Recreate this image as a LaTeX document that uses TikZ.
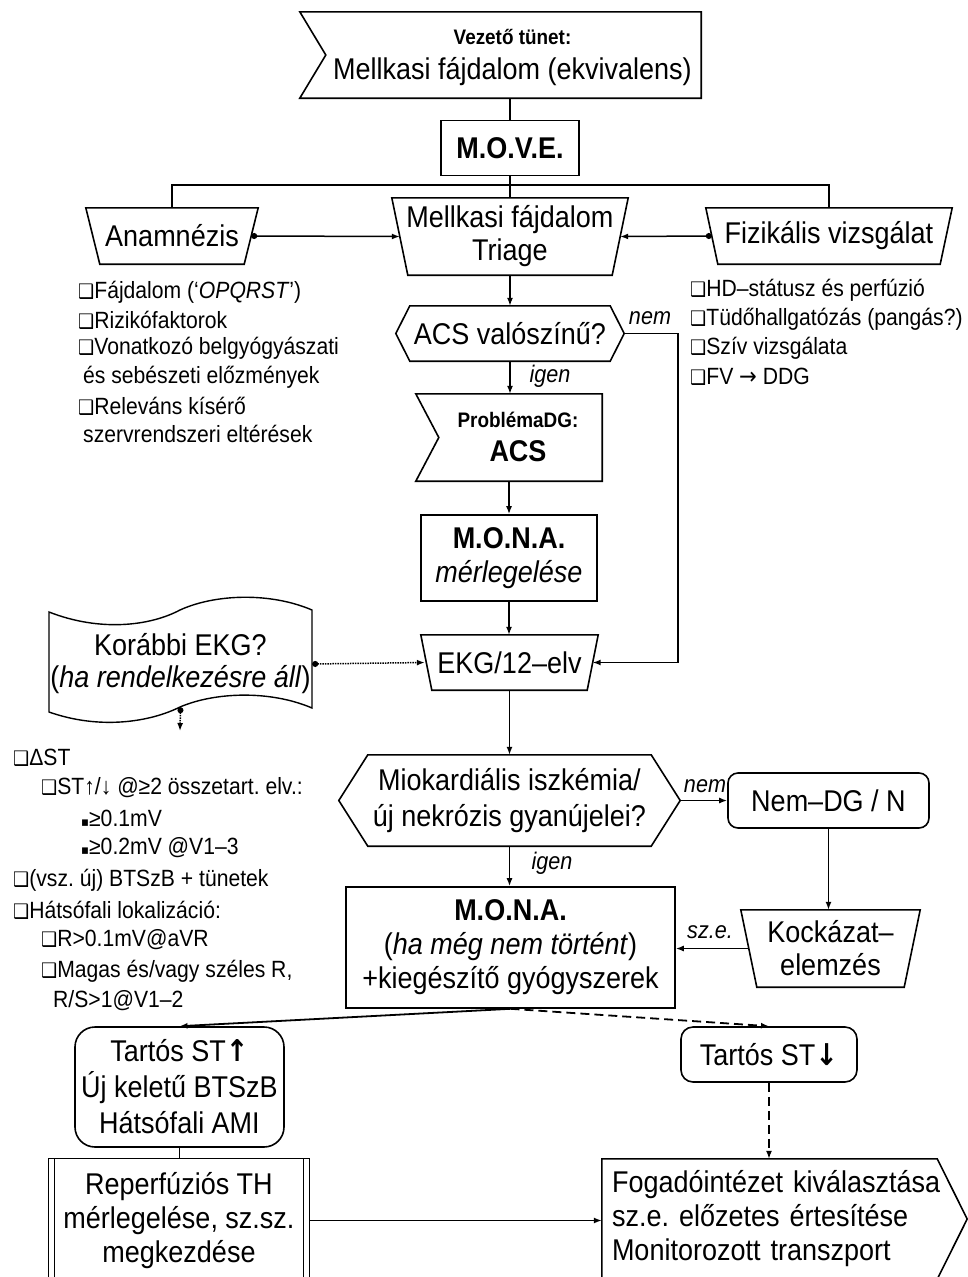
\documentclass[tikz,border=0pt]{standalone}
\usepackage{fontspec}
\setmainfont{Liberation Sans}[FakeStretch=0.9]
\newfontfamily\symfont{DejaVu Sans}[FakeStretch=0.9]
\usetikzlibrary{arrows.meta,calc}
\frenchspacing

\newcommand\bigtxt{\fontsize{30}{34}\selectfont}
\newcommand\listtxt{\fontsize{23.5}{28}\selectfont}
\newcommand\smalltxt{\fontsize{21}{24}\selectfont}
\newcommand\lbltxt{\fontsize{24}{26}\selectfont\itshape}
\newcommand\qbox{{\symfont\fontsize{20}{20}\selectfont ❑}}
\newcommand\sqb{{\symfont\fontsize{13}{13}\selectfont ▪}}

% outlines drawn around invisible nodes
\newcommand\trapeze[2]{\draw[outline] (#1.north west) -- (#1.north east) -- ([xshift=-#2]#1.south east) -- ([xshift=#2]#1.south west) -- cycle;}
\newcommand\hexa[2]{\draw[outline] (#1.west) -- ([xshift=#2]#1.north west) -- ([xshift=-#2]#1.north east) -- (#1.east) -- ([xshift=-#2]#1.south east) -- ([xshift=#2]#1.south west) -- cycle;}
\newcommand\flagin[2]{\draw[outline] (#1.north west) -- (#1.north east) -- (#1.south east) -- (#1.south west) -- ([xshift=#2]#1.west) -- cycle;}

\tikzset{
  outline/.style={draw=black, line width=1.6pt, line join=miter},
  box/.style={inner sep=0pt, align=center, font=\bigtxt},
  framed/.style={box, draw=black, line width=1.6pt},
  conn/.style={line width=1.5pt},
  longdash/.style={dash pattern=on 9pt off 5pt},
  arr/.style={-{Latex[length=8pt,width=6pt]}},
  dotarr/.style={{Circle[length=6pt]}-{Latex[length=8pt,width=6pt]}},
  lbl/.style={inner sep=0pt, font=\lbltxt},
  item/.style={inner sep=0pt, anchor=west, font=\listtxt},
}

\begin{document}
\begin{tikzpicture}[x=1pt,y=-1pt]
\fill[white] (0,0) rectangle (968,1277);
\useasboundingbox (0,0) rectangle (968,1277);

% ---------- top part ----------
\node[box, minimum width=401, minimum height=86] (vezeto) at (500.5,55)
  {\hspace*{24pt}\begin{tabular}{@{}c@{}}{\smalltxt\bfseries Vezető tünet:}\\[1pt] Mellkasi fájdalom (ekvivalens)\end{tabular}};
\flagin{vezeto}{26}

\node[framed, font=\bigtxt\bfseries, minimum width=138, minimum height=55] (move) at (510,148) {M.O.V.E.};
\coordinate (bus) at (510,185);

\node[box, minimum width=172, minimum height=56] (anam) at (172,236) {Anamnézis};
\trapeze{anam}{14}
\node[box, minimum width=236, minimum height=77] (triage) at (510,236.5) {Mellkasi fájdalom\\[-1pt]Triage};
\trapeze{triage}{16}
\node[box, minimum width=246, minimum height=56] (fiz) at (829,236) {Fizikális vizsgálat};
\trapeze{fiz}{12}

\draw[conn] (move.north |- vezeto.south) -- (move.north);
\draw[conn] (move.south) -- (triage.north);
\draw[conn] (anam.north) -- (anam.north |- bus) -- (fiz.north |- bus) -- (fiz.north);
\draw[conn, dotarr] ([xshift=-7]anam.east) -- ([xshift=8]triage.west);
\draw[conn, dotarr] ([xshift=6]fiz.west) -- ([xshift=-8]triage.east);

% history and examination lists
\node[item] (a1) at (78,292) {\qbox Fájdalom (‘\textit{OPQRST}’)};
\node[item] (a2) at (78,320) {\qbox Rizikófaktorok};
\node[item] (a3) at (78,348) {\qbox Vonatkozó belgyógyászati};
\node[item] (a4) at (83,377) {és sebészeti előzmények};
\node[item] (a5) at (78,406) {\qbox Releváns kísérő};
\node[item] (a6) at (83,434) {szervrendszeri eltérések};

\node[item] (f1) at (690,290) {\qbox HD–státusz és perfúzió};
\node[item] (f2) at (690,319) {\qbox Tüdőhallgatózás (pangás?)};
\node[item] (f3) at (690,348) {\qbox Szív vizsgálata};
\node[item] (f4) at (690,377) {\qbox FV {\symfont →} DDG};

% ---------- ACS branch ----------
\node[box, minimum width=228, minimum height=55] (acs) at (510,333.5) {ACS valószínű?};
\hexa{acs}{14}
\node[box, minimum width=186, minimum height=87] (prob) at (509,437.5)
  {\hspace*{18pt}\begin{tabular}{@{}c@{}}{\smalltxt\bfseries ProblémaDG:}\\ {\bfseries ACS}\end{tabular}};
\flagin{prob}{23}
\node[framed, minimum width=176, minimum height=86] (mona1) at (509,558) {{\bfseries M.O.N.A.}\\\textit{mérlegelése}};
\node[box, minimum width=177, minimum height=55] (ekg) at (509.5,662.5) {EKG/12–elv};
\trapeze{ekg}{11}

\draw[conn, arr] (triage.south) -- (acs.north);
\draw[conn, arr] (acs.south) -- (acs.south |- prob.north);
\node[lbl] (igen1) at (550,376) {igen};
\draw[conn, arr] (prob.south) -- (prob.south |- mona1.north);
\draw[conn, arr] (mona1.south) -- (mona1.south |- ekg.north);
\coordinate (nemx) at (678,0);
\draw[conn, arr] (acs.east) -- (acs.east -| nemx) -- (nemx |- ekg.east) -- ([xshift=-5.5]ekg.east);
\node[lbl] (nem1) at (650,318) {nem};

% earlier ECG
\node[box, minimum width=263, minimum height=96] (korabbi) at (180.5,664)
  {Korábbi EKG?\\[-2pt](\textit{ha rendelkezésre áll})};
\draw[outline, line width=1.4pt] (49,612) .. controls (100,632) and (150,626) .. (180,610)
  .. controls (215,594) and (270,592) .. (312,610) -- (312,708)
  .. controls (270,690) and (215,692) .. (180,707)
  .. controls (150,722) and (100,730) .. (49,712) -- cycle;
\draw[conn, densely dotted, dotarr] (korabbi.east) -- ([xshift=4]ekg.west);
\coordinate (kdown) at (180,731);
\draw[conn, densely dotted, dotarr] ([yshift=5]korabbi.south) -- (kdown);

% ECG criteria
\node[item] (e1) at (13,758) {\qbox ΔST};
\node[item] (e2) at (41,788) {\qbox ST↑/↓ @≥2 összetart. elv.:};
\node[item] (e3) at (81,818) {\sqb≥0.1mV};
\node[item] (e4) at (81,848) {\sqb≥0.2mV @V1–3};
\node[item] (e5) at (13,880) {\qbox(vsz. új) BTSzB + tünetek};
\node[item] (e6) at (13,910) {\qbox Hátsófali lokalizáció:};
\node[item] (e7) at (41,940) {\qbox R>0.1mV@aVR};
\node[item] (e8) at (41,971) {\qbox Magas és/vagy széles R,};
\node[item] (e9) at (53,1001) {R/S>1@V1–2};

% ---------- ischaemia decision ----------
\node[box, minimum width=341, minimum height=91] (miok) at (509.5,800.5)
  {Miokardiális iszkémia/\\[2pt]új nekrózis gyanújelei?};
\hexa{miok}{29}
\node[framed, rounded corners=10pt, minimum width=201, minimum height=55] (nemdg) at (828.5,800.5) {Nem–DG / N};
\node[box, minimum width=179, minimum height=77] (kock) at (830.5,948.5) {Kockázat–\\[-1pt]elemzés};
\trapeze{kock}{16}
\node[framed, minimum width=329, minimum height=121] (mona2) at (510.5,947.5)
  {{\bfseries M.O.N.A.}\\(\textit{ha még nem történt})\\+kiegészítő gyógyszerek};

\draw[conn, arr] (ekg.south) -- (ekg.south |- miok.north);
\draw[conn, arr] (miok.east) -- (nemdg.west);
\node[lbl] (nem2) at (705,786) {nem};
\draw[conn, arr] (miok.south) -- (miok.south |- mona2.north);
\node[lbl] (igen2) at (552,863) {igen};
\draw[conn, arr] (nemdg.south) -- (nemdg.south |- kock.north);
\draw[conn, arr] ([xshift=8]kock.west) -- (kock.west -| mona2.east);
\node[lbl] (sze) at (710,932) {sz.e.};

% ---------- outcome ----------
\node[framed, rounded corners=20pt, minimum width=209, minimum height=120] (stup) at (179.5,1087)
  {Tartós ST{\symfont\bfseries ↑}\\[2pt]Új keletű BTSzB\\[2pt]Hátsófali AMI};
\node[framed, rounded corners=12pt, minimum width=176, minimum height=55] (stdown) at (769,1054.5)
  {Tartós ST{\symfont\bfseries ↓}};

\draw[conn, line width=1.8pt, arr] (mona2.south) -- (stup.north);
\draw[conn, line width=1.8pt, longdash, arr] (mona2.south) -- (stdown.north);

\node[box, minimum width=260, minimum height=123] (rep) at (179,1220.5)
  {Reperfúziós TH\\mérlegelése, sz.sz.\\megkezdése};
\draw[outline, line width=1.3pt] (rep.south west) -- (rep.north west) -- (rep.north east) -- (rep.south east);
\draw[outline, line width=1.3pt] ([xshift=6]rep.north west) -- ([xshift=6]rep.south west);
\draw[outline, line width=1.3pt] ([xshift=-6]rep.north east) -- ([xshift=-6]rep.south east);

\node[box, align=left, text width=345pt, minimum width=365, minimum height=120] (fog) at (784.5,1219)
  {Fogadóintézet kiválasztása\\sz.e. előzetes értesítése\\Monitorozott transzport};
\draw[outline] (fog.south west) -- (fog.north west) -- ([xshift=-30]fog.north east) -- (fog.east) -- ([xshift=-30]fog.south east);

\draw[conn] (stup.south) -- (stup.south |- rep.north);
\draw[conn, arr] (rep.east) -- (rep.east -| fog.west);
\draw[conn, longdash, arr] (stdown.south) -- (stdown.south |- fog.north);
\end{tikzpicture}
\end{document}
